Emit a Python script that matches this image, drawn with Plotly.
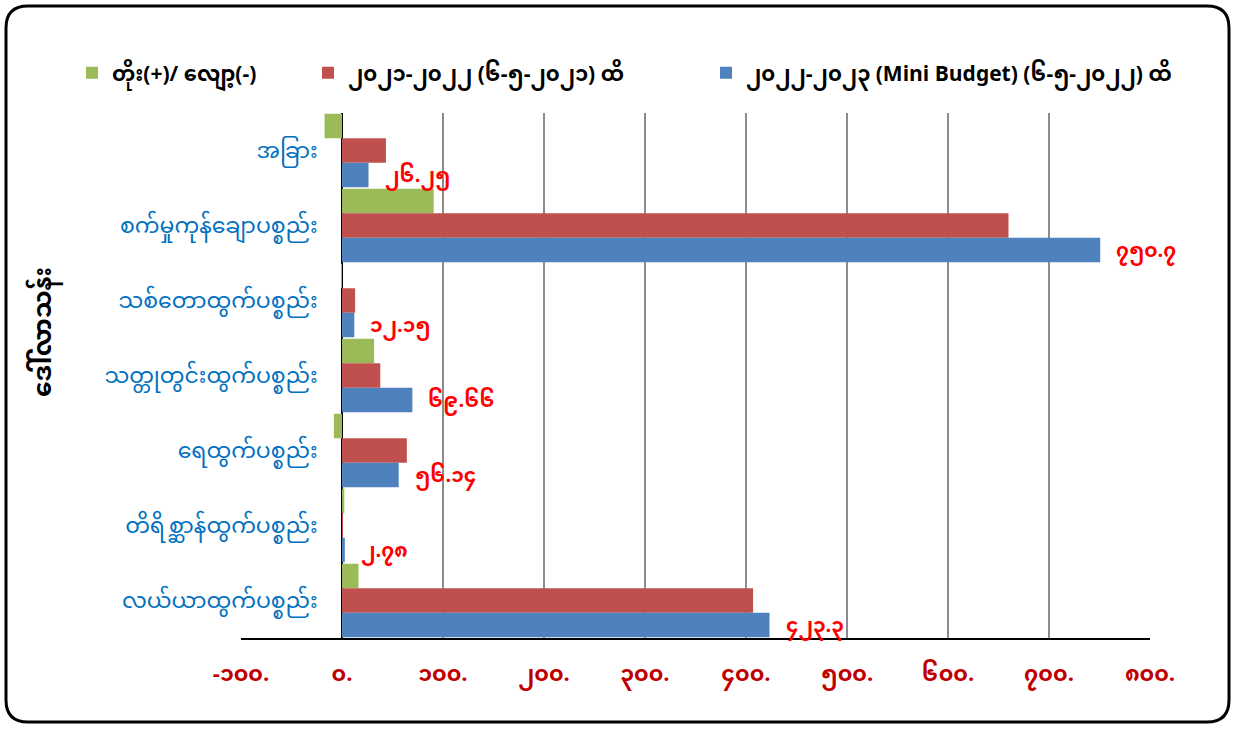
import plotly.graph_objects as go

# ---------------- data ----------------
categories = [
    "အခြား",
    "စက်မှုကုန်ချောပစ္စည်း",
    "သစ်တောထွက်ပစ္စည်း",
    "သတ္တုတွင်းထွက်ပစ္စည်း",
    "ရေထွက်ပစ္စည်း",
    "တိရိစ္ဆာန်ထွက်ပစ္စည်း",
    "လယ်ယာထွက်ပစ္စည်း",
]
change_vals = [-17.25, 90.8, -0.85, 31.76, -8.06, 2.28, 16.3]
fy2122_vals = [43.5, 659.9, 13.0, 37.9, 64.2, 0.5, 407.0]
fy2223_vals = [26.25, 750.7, 12.15, 69.66, 56.14, 2.78, 423.3]
fy2223_labels = ["၂၆.၂၅", "၇၅၀.၇", "၁၂.၁၅", "၆၉.၆၆", "၅၆.၁၄", "၂.၇၈", "၄၂၃.၃"]

series_names = [
    "တိုး(+)/ လျော့(-)",
    "၂၀၂၁-၂၀၂၂ (၆-၅-၂၀၂၁) ထိ",
    "၂၀၂၂-၂၀၂၃ (Mini Budget) (၆-၅-၂၀၂၂) ထိ",
]
x_tickvals = [-100, 0, 100, 200, 300, 400, 500, 600, 700, 800]
x_ticktext = ["-၁၀၀.", "၀.", "၁၀၀.", "၂၀၀.", "၃၀၀.", "၄၀၀.", "၅၀၀.", "၆၀၀.", "၇၀၀.", "၈၀၀."]
y_title = "ဒေါ်လာသန်း"

# ---------------- layout geometry ----------------
W, H = 1235, 729
L, R, T, B = 241, 1150, 113, 638
PW, PH = R - L, B - T


def px(xp):
    return (xp - L) / PW


def py(yp):
    return (B - yp) / PH


FONT = "Noto Sans Myanmar, Padauk, Myanmar Text, Noto Sans, sans-serif"
colors = ["#9BBB59", "#C0504D", "#4F81BD"]

fig = go.Figure()
for name, vals, col, lg in zip(series_names, [change_vals, fy2122_vals, fy2223_vals],
                               colors, ["legend", "legend2", "legend3"]):
    fig.add_trace(go.Bar(
        y=categories, x=vals, name="<b>" + name + "</b>", orientation="h",
        marker=dict(color=col, line=dict(width=0)),
        legend=lg,
    ))

# value labels for the blue series
annotations = []
for cat, v, lab in zip(categories, fy2223_vals, fy2223_labels):
    annotations.append(dict(
        x=v, y=cat, xref="x", yref="y", text="<b>" + lab + "</b>", showarrow=False,
        xanchor="left", yanchor="middle", xshift=14, yshift=-27,
        font=dict(family=FONT, size=20, color="#FF0000"),
    ))

annotations.append(dict(
    x=px(45), y=py(332), xref="paper", yref="paper", text="<b>" + y_title + "</b>",
    textangle=-90, showarrow=False, xanchor="center", yanchor="middle",
    font=dict(family=FONT, size=25, color="#000000"),
))

# rounded frame
x0, y0, x1, y1, r = 6, 6, 1229, 722, 22
path = (
    f"M {px(x0 + r)},{py(y0)} L {px(x1 - r)},{py(y0)} "
    f"Q {px(x1)},{py(y0)} {px(x1)},{py(y0 + r)} "
    f"L {px(x1)},{py(y1 - r)} Q {px(x1)},{py(y1)} {px(x1 - r)},{py(y1)} "
    f"L {px(x0 + r)},{py(y1)} Q {px(x0)},{py(y1)} {px(x0)},{py(y1 - r)} "
    f"L {px(x0)},{py(y0 + r)} Q {px(x0)},{py(y0)} {px(x0 + r)},{py(y0)} Z"
)

legend_common = dict(
    orientation="h", xanchor="left", yanchor="middle", y=py(73),
    font=dict(family=FONT, size=21, color="#000000"),
    bgcolor="rgba(0,0,0,0)", borderwidth=0,
)

fig.update_layout(
    width=W, height=H,
    margin=dict(l=L, r=W - R, t=T, b=H - B, autoexpand=False),
    paper_bgcolor="white", plot_bgcolor="white",
    barmode="group", bargap=0.02, bargroupgap=0,
    font=dict(family=FONT),
    showlegend=True,
    legend=dict(x=px(72), **legend_common),
    legend2=dict(x=px(308), **legend_common),
    legend3=dict(x=px(706), **legend_common),
    xaxis=dict(
        range=[-100, 800], tickvals=x_tickvals,
        ticktext=["<b>" + t + "</b>" for t in x_ticktext],
        showgrid=True, gridcolor="#8C8C8C", gridwidth=2,
        zeroline=True, zerolinecolor="#000000", zerolinewidth=2,
        showline=True, linecolor="#000000", linewidth=2,
        ticks="outside", ticklen=15, tickcolor="rgba(0,0,0,0)",
        tickfont=dict(family=FONT, size=22, color="#C00000"),
        fixedrange=True,
    ),
    yaxis=dict(
        range=[6.5, -0.5], anchor="free", position=px(342),
        showgrid=False, showline=False, zeroline=False,
        ticks="outside", ticklen=20, tickcolor="rgba(0,0,0,0)",
        tickfont=dict(family=FONT, size=22, color="#0070C0"),
        fixedrange=True,
    ),
    annotations=annotations,
    shapes=[dict(type="path", path=path, xref="paper", yref="paper",
                 line=dict(color="#000000", width=3), fillcolor="rgba(0,0,0,0)",
                 layer="above")],
)

fig.write_html("out.html")
